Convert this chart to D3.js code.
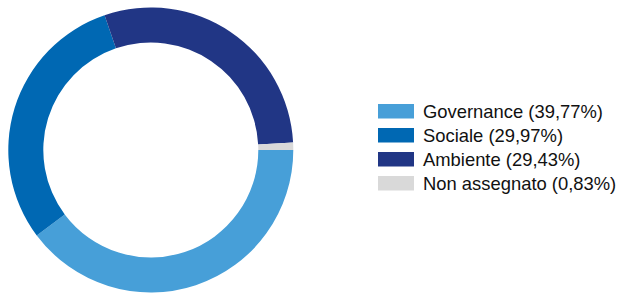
<!DOCTYPE html>
<html><head><meta charset="utf-8">
<script src="https://cdn.jsdelivr.net/npm/d3@7"></script>
<style>body{margin:0;background:#fff}svg{display:block}</style>
</head><body>
<script>
const categories = ["Governance", "Sociale", "Ambiente", "Non assegnato"];
const values = [39.77, 29.97, 29.43, 0.83];
const labels = ["39,77%", "29,97%", "29,43%", "0,83%"];
const colors = ["#479FD8", "#0068B3", "#213685", "#D9D9D9"];

const W = 619, H = 294;
const svg = d3.select("body").append("svg").attr("width", W).attr("height", H);
const cx = 150.8, cy = 150, rO = 142.5, rI = 107.5;
const pie = d3.pie().sort(null).startAngle(Math.PI/2).endAngle(Math.PI/2 + 2*Math.PI);
const arc = d3.arc().innerRadius(rI).outerRadius(rO);
const data = categories.map((c,i)=>({c, v: values[i], col: colors[i], lab: labels[i]}));
svg.append("g").attr("transform", `translate(${cx},${cy})`)
  .selectAll("path").data(pie.value(d=>d.v)(data)).join("path")
  .attr("d", arc).attr("fill", d=>d.data.col);

const lg = svg.append("g").attr("transform", "translate(378,104)");
const row = lg.selectAll("g").data(data).join("g").attr("transform",(d,i)=>`translate(0,${i*24})`);
row.append("rect").attr("width",36).attr("height",14.5).attr("fill",d=>d.col);
row.append("text").attr("x",45).attr("y",14)
  .style("font-family","'Liberation Sans', Arial, sans-serif").style("font-size","18.4px").attr("fill","#111")
  .text(d=>`${d.c} (${d.lab})`);
</script>
</body></html>
